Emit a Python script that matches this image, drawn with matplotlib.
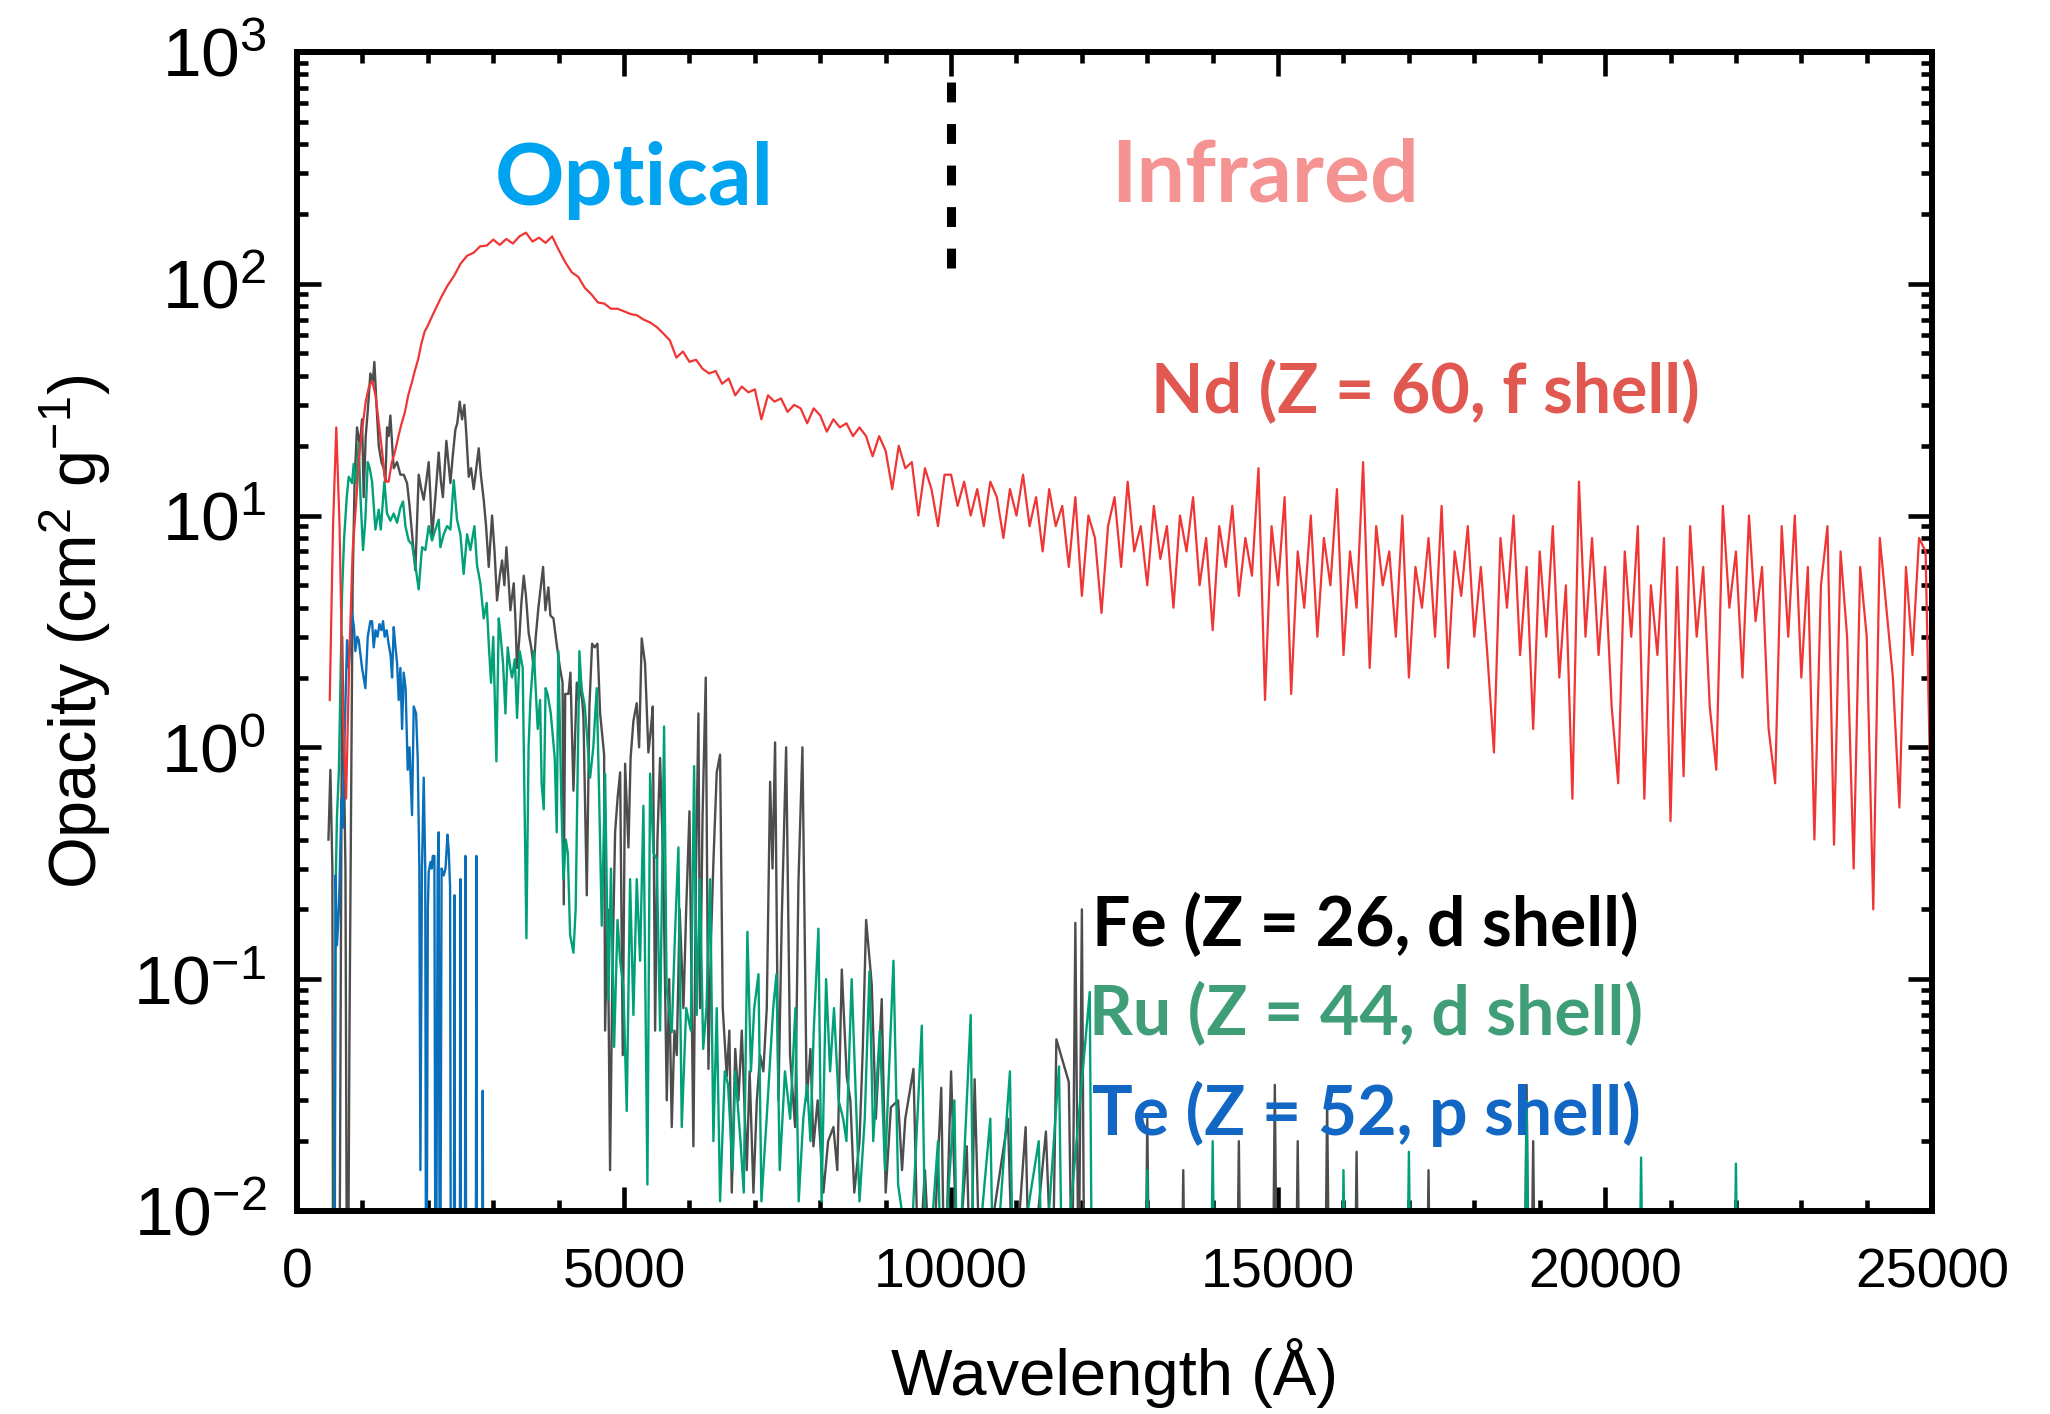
import numpy as np
import matplotlib
matplotlib.use('Agg')
import matplotlib.pyplot as plt
from matplotlib.ticker import MultipleLocator, LogLocator

plt.rcParams['font.family'] = ['Liberation Sans', 'DejaVu Sans']
plt.rcParams['mathtext.fontset'] = 'custom'
plt.rcParams['mathtext.rm'] = 'Liberation Sans'
plt.rcParams['mathtext.it'] = 'Liberation Sans:italic'
plt.rcParams['mathtext.bf'] = 'Liberation Sans:bold'
plt.rcParams['mathtext.default'] = 'regular'

# ---- Nd (Z = 60) : values ----
nd_wave = np.concatenate([np.arange(500, 2000, 50), np.arange(2000, 25001, 100)])
nd_opac = [
    1.6, 9, 24, 9, 1.5, 0.6, 2.5, 7, 11, 18,
    24, 31, 36, 38, 33, 25, 19, 14, 14, 17,
    19, 22, 25, 28, 33, 37, 42, 47, 55, 62,
    # 2000 - 4900
    66, 76, 87, 98, 108, 122, 132, 136, 145, 146,
    155, 147, 156, 149, 160, 166, 152, 158, 150, 160,
    140, 124, 112, 107, 96, 90, 83, 82, 78, 78,
    # 5000 - 9900
    76, 74, 73, 70, 68, 65, 61, 57, 48, 51,
    46, 47, 43, 41, 42, 37, 39, 33, 36, 34,
    35, 26, 33, 31, 32, 28, 30, 29, 25, 29,
    27, 23, 26, 24, 25, 22, 24, 22, 18, 22,
    19, 13, 20, 16, 17, 10, 16, 13, 9, 15,
    # 10000 - 25000
    15, 11, 14, 10, 13, 9, 14, 12, 8, 13,
    10, 15, 9, 12, 7, 13, 9, 11, 6, 12,
    4.5, 10, 8, 3.8, 9, 12, 6, 14, 7, 9,
    5, 11, 6.5, 9, 4, 10, 7, 12, 5, 8,
    3.2, 9, 6, 11, 4.5, 8, 5.5, 16, 1.6, 9,
    5, 12, 1.7, 7, 4, 10, 3, 8, 5, 13,
    2.5, 7, 4, 17, 2.2, 9, 5, 7, 3, 10,
    2, 6, 4, 8, 3, 11, 2.2, 7, 4.5, 9,
    3, 6, 2.5, 0.95, 8, 4, 10, 2.5, 6, 1.2,
    7, 3, 9, 2, 5, 0.6, 14, 3, 8, 2.5,
    6, 1.5, 0.7, 7, 3, 9, 0.6, 5, 2.5, 8,
    0.48, 6, 0.75, 9, 3, 6, 1.5, 0.8, 11, 4,
    7, 2, 10, 3.5, 6, 1.2, 0.7, 9, 3, 10,
    2, 6, 0.4, 5, 9, 0.38, 7, 3, 0.3, 6,
    3, 0.2, 8, 4, 2, 0.55, 6, 2.5, 8, 7,
    0.28,
]

# ---- Fe (Z = 26) ----
fe_wave = [
    480, 510, 540, 555, 640, 690, 740, 770, 800, 850, 880, 917, 960, 994, 1019, 1050,
    1080, 1121, 1160, 1182, 1215, 1249, 1290, 1325, 1351, 1376, 1400, 1427, 1455, 1478,
    1529, 1580, 1631, 1682, 1720, 1758, 1809, 1860, 1900, 1937, 1975, 2013, 2040, 2064,
    2115, 2140, 2166, 2200, 2230, 2283, 2315, 2345, 2380, 2421, 2450, 2487, 2523, 2559,
    2590, 2625, 2660, 2701, 2740, 2778, 2810, 2854, 2890, 2931, 2960, 2982, 3020, 3058,
    3100, 3135, 3170, 3201, 3230, 3262, 3290, 3313, 3340, 3364, 3400, 3430, 3466, 3500,
    3542, 3580, 3619, 3650, 3690, 3730, 3762, 3797, 3843, 3874, 3920, 3976, 4020, 4060,
    4078, 4100, 4150, 4180, 4226, 4277, 4307, 4340, 4379, 4430, 4470, 4511, 4550, 4593,
    4634, 4695, 4710, 4750, 4786, 4820, 4863, 4900, 4940, 4980, 5016, 5067, 5100, 5143,
    5194, 5230, 5270, 5321, 5372, 5410, 5439, 5475, 5510, 5551, 5600, 5653, 5690, 5729,
    5770, 5806, 5850, 5908, 5950, 6000, 6060, 6100, 6137, 6163, 6200, 6249, 6290, 6330,
    6366, 6417, 6468, 6509, 6570, 6610, 6647, 6700, 6749, 6800, 6876, 6920, 6978, 7030,
    7080, 7130, 7182, 7233, 7270, 7309, 7360, 7411, 7478, 7538, 7615, 7666, 7727, 7793,
    7850, 7895, 7960, 8048, 8120, 8201, 8260, 8329, 8405, 8460, 8520, 8600, 8650, 8701,
    8787, 8850, 8940, 9000, 9080, 9190, 9250, 9300, 9425, 9500, 9600, 9700, 9850, 9900,
    10000, 10100, 10240, 10300, 10360, 10450, 10700, 10870, 10950, 11140, 11200, 11450,
    11550, 11610, 11690, 11800, 11850, 11900, 11950, 12000, 12050,
    12950, 13000, 13050, 13500, 13550, 13600, 14350, 14400, 14450, 14900, 14950, 15000,
    15250, 15300, 15350, 15700, 15750, 15800, 16150, 16200, 16250, 17250, 17300, 17350,
    18750, 18800, 18850, 18900, 18950,
]
fe_opac = [
    0.4, 0.8, 0.3, 0.001, 0.001, 3.0, 0.3, 0.001, 0.05, 5, 14, 24, 20, 26, 12, 22,
    28, 41, 38, 46, 30, 20, 17, 16, 14, 24, 22, 27, 20, 16,
    17, 15, 15, 13.8, 11, 8.4, 5.8, 15, 13, 11.7, 14, 17, 12, 8.1,
    12, 15, 18.7, 14, 12, 21, 17, 13.8, 18, 23.5, 25, 31, 26, 30,
    22, 14.7, 16, 13, 16, 19.5, 15, 11.7, 9, 6, 8, 10, 7, 4.3,
    5.5, 6.4, 5, 7.3, 5.5, 3.9, 4.5, 5.1, 3.5, 2.2, 3, 4.2, 5.5, 4.5,
    3.1, 2.7, 2.2, 3, 4.0, 5.0, 6, 3.9, 4.9, 3.7, 3.6, 2.7, 2.2, 1.9,
    0.21, 1.7, 1.7, 2.1, 0.65, 1.9, 1.6, 1.9, 1.35, 0.23, 1.5, 2.8, 2.7, 2.8,
    1.4, 0.93, 0.06, 0.2, 0.015, 0.1, 0.43, 0.6, 0.78, 0.047, 0.85, 0.37, 0.9, 1.3,
    1.55, 1.0, 2.95, 2.3, 0.95, 1.2, 1.5, 0.06, 0.4, 0.9, 0.3, 0.03, 0.1, 0.023,
    0.06, 0.047, 0.2, 0.075, 0.2, 0.53, 0.019, 0.3, 1.4, 0.075, 0.5, 2.0, 0.041, 0.15,
    0.32, 0.78, 0.93, 0.075, 0.038, 0.06, 0.012, 0.05, 0.03, 0.06, 0.015, 0.04, 0.012, 0.03,
    0.047, 0.04, 0.075, 0.71, 0.3, 1.05, 0.03, 0.18, 1.0, 0.047, 0.023, 0.26, 1.0, 0.03,
    0.05, 0.019, 0.03, 0.012, 0.02, 0.023, 0.015, 0.11, 0.038, 0.03, 0.012, 0.02, 0.05, 0.18,
    0.095, 0.025, 0.082, 0.012, 0.028, 0.03, 0.015, 0.025, 0.041, 0.005, 0.015, 0.004, 0.034, 0.004,
    0.04, 0.005, 0.019, 0.004, 0.037, 0.004, 0.012, 0.025, 0.004, 0.023, 0.004, 0.022,
    0.004, 0.055, 0.046, 0.036, 0.004, 0.175, 0.004, 0.2, 0.001,
    0.001, 0.025, 0.001, 0.001, 0.015, 0.001, 0.001, 0.02, 0.001, 0.001, 0.035, 0.001,
    0.001, 0.02, 0.001, 0.001, 0.03, 0.001, 0.001, 0.018, 0.001, 0.001, 0.015, 0.001,
    0.001, 0.035, 0.001, 0.02, 0.001,
]

# ---- Ru (Z = 44) ----
ru_wave = [
    560, 590, 610, 640, 688, 720, 760, 790, 841, 866, 900, 943, 970, 1009, 1045, 1081,
    1111, 1147, 1198, 1249, 1280, 1335, 1376, 1427, 1478, 1529, 1580, 1621, 1657, 1707,
    1758, 1809, 1860, 1911, 1962, 2013, 2064, 2115, 2166, 2192, 2243, 2294, 2345, 2396,
    2446, 2497, 2548, 2600, 2650, 2712, 2752, 2803, 2854, 2900, 2931, 2966, 3000, 3048,
    3084, 3109, 3150, 3186, 3221, 3260, 3287, 3330, 3364, 3405, 3450, 3507, 3540, 3568,
    3620, 3680, 3716, 3740, 3772, 3800, 3830, 3880, 3940, 3971, 3996, 4040, 4073, 4110,
    4140, 4175, 4226, 4260, 4317, 4350, 4400, 4481, 4530, 4582, 4620, 4659, 4710, 4761,
    4800, 4848, 4900, 4940, 4990, 5041, 5092, 5143, 5194, 5245, 5296, 5357, 5398, 5450,
    5500, 5551, 5612, 5650, 5729, 5780, 5831, 5882, 5950, 6020, 6071, 6110, 6160, 6210,
    6260, 6316, 6366, 6417, 6468, 6540, 6590, 6660, 6700, 6780, 6830, 6886, 6940, 6990,
    7055, 7100, 7180, 7280, 7330, 7380, 7460, 7540, 7620, 7670, 7740, 7800, 7850, 7900,
    7972, 8020, 8089, 8150, 8210, 8280, 8350, 8400, 8480, 8530, 8600, 8680, 8752, 8810,
    8910, 8990, 9119, 9190, 9270, 9350, 9552, 9620, 9800, 9850, 10050, 10100, 10300, 10350,
    10600, 10650, 10900, 10950, 11340, 11400, 11650, 11700, 12120, 12170,
    12950, 13000, 13050, 13950, 14000, 14050, 15950, 16000, 16050, 16950, 17000, 17050,
    18750, 18800, 18850, 20500, 20550, 20600, 21950, 22000, 22050,
]
ru_opac = [
    0.001, 0.25, 0.5, 0.8, 4.6, 8, 12, 14.7, 13.8, 16.7, 13.8, 20.5, 12, 7.1, 9.6, 17,
    16, 14, 8.7, 10.6, 8.7, 14, 10.2, 9.5, 10.2, 9.3, 10.8, 11.5, 9, 7.8,
    7.5, 6.1, 4.8, 7.3, 7.1, 9, 7.8, 8.7, 9.6, 7.3, 8.3, 9, 8.7, 14.2,
    9.6, 8.3, 5.6, 8.3, 7.1, 9, 6.1, 5.1, 3.6, 4.2, 2.8, 1.9, 3.0, 0.87,
    3.6, 3.1, 2.3, 1.4, 2.7, 2.2, 2.0, 2.4, 1.34, 2.6, 2.2, 0.15, 1.0, 1.6,
    2.6, 1.2, 1.6, 0.7, 0.54, 1.8, 1.7, 1.4, 0.9, 0.43, 2.6, 0.6, 0.27, 0.4,
    0.35, 0.155, 0.13, 0.2, 2.6, 1.8, 1.5, 0.74, 1.0, 1.8, 0.6, 0.17, 0.77, 0.081,
    0.3, 0.051, 0.18, 0.12, 0.092, 0.027, 0.27, 0.07, 0.27, 0.12, 0.56, 0.013, 0.77, 0.35,
    0.33, 0.06, 1.23, 0.092, 0.059, 0.16, 0.37, 0.023, 0.075, 0.06, 0.83, 0.07, 0.27, 0.05,
    0.075, 0.27, 0.02, 0.075, 0.011, 0.04, 0.035, 0.015, 0.04, 0.02, 0.012, 0.16, 0.04, 0.075,
    0.105, 0.011, 0.025, 0.075, 0.105, 0.015, 0.04, 0.025, 0.075, 0.011, 0.025, 0.035, 0.02, 0.06,
    0.165, 0.011, 0.1, 0.04, 0.075, 0.03, 0.025, 0.02, 0.1, 0.04, 0.011, 0.025, 0.108, 0.02,
    0.06, 0.015, 0.12, 0.013, 0.009, 0.004, 0.063, 0.004, 0.02, 0.004, 0.03, 0.004, 0.07, 0.004,
    0.025, 0.004, 0.04, 0.004, 0.02, 0.004, 0.042, 0.004, 0.088, 0.001,
    0.001, 0.015, 0.001, 0.001, 0.02, 0.001, 0.001, 0.015, 0.001, 0.001, 0.018, 0.001,
    0.001, 0.03, 0.001, 0.001, 0.017, 0.001, 0.001, 0.016, 0.001,
]

# ---- Te (Z = 52) ----
te_wave = [
    570, 590, 610, 640, 680, 700, 730, 765, 790, 820, 841, 870, 892, 920, 943, 970,
    994, 1045, 1081, 1121, 1147, 1172, 1200, 1230, 1260, 1290, 1315, 1340, 1370, 1400,
    1430, 1453, 1478, 1500, 1530, 1555, 1580, 1606, 1630, 1660, 1692, 1720, 1758, 1784,
    1820, 1845, 1870, 1886, 1910, 1937, 1960, 1975, 2000, 2013, 2040, 2060, 2075, 2100,
    2120, 2150, 2166, 2185, 2210, 2243, 2270, 2300, 2319, 2340, 2355, 2395, 2406, 2420,
    2485, 2497, 2510, 2565, 2574, 2590, 2730, 2742, 2755, 2830, 2839, 2850,
]
te_opac = [
    0.001, 0.28, 0.14, 0.2, 0.6, 0.45, 1.2, 2.9, 2.2, 3.0, 3.8, 3.3, 2.6, 3.0, 2.9, 2.5,
    2.2, 1.8, 3.0, 3.5, 3.5, 2.7, 3.2, 3.0, 3.4, 3.2, 3.5, 3.0, 3.2, 2.8,
    2.5, 2.0, 3.3, 2.8, 2.3, 1.6, 2.2, 1.2, 2.1, 1.8, 0.8, 1.0, 0.51, 1.5,
    1.4, 0.9, 0.3, 0.015, 0.3, 0.74, 0.3, 0.001, 0.2, 0.29, 0.32, 0.3, 0.34, 0.34,
    0.001, 0.3, 0.43, 0.001, 0.3, 0.28, 0.3, 0.42, 0.36, 0.25, 0.001, 0.001, 0.23, 0.001,
    0.001, 0.27, 0.001, 0.001, 0.34, 0.001, 0.001, 0.34, 0.001, 0.001, 0.033, 0.001,
]

fig = plt.figure(figsize=(20.5, 14.14), dpi=100)
ax = fig.add_axes([0.1449, 0.1436, 0.7976, 0.8197])

ax.plot(fe_wave, fe_opac, color='#4d4d4d', lw=1.7)
ax.plot(ru_wave, ru_opac, color='#00a078', lw=1.7)
ax.plot(te_wave, te_opac, color='#0a6fba', lw=1.7)
ax.plot(nd_wave, nd_opac, color='#f03535', lw=1.6)

ax.plot([10000, 10000], [117, 790], color='black', lw=6.5,
        linestyle=(0, (2.2, 2.4)), dash_capstyle='butt')

ax.set_yscale('log')
ax.set_xlim(0, 25000)
ax.set_ylim(1e-2, 1e3)

ax.xaxis.set_major_locator(MultipleLocator(5000))
ax.xaxis.set_minor_locator(MultipleLocator(1000))
ax.yaxis.set_major_locator(LogLocator(base=10, numticks=10))
ax.yaxis.set_minor_locator(LogLocator(base=10, subs=np.arange(2, 10), numticks=20))

for s in ax.spines.values():
    s.set_linewidth(4.3)
ax.tick_params(which='both', direction='in', top=True, right=True, width=3.3)
ax.tick_params(which='major', length=17)
ax.tick_params(axis='x', which='major', pad=26, labelsize=40)
ax.tick_params(axis='y', which='major', pad=22, labelsize=50)
ax.tick_params(which='minor', length=8)

ax.set_xlabel('Wavelength (Å)', fontsize=47, labelpad=28)
ax.set_ylabel('Opacity (cm$^2$ g$^{-1}$)', fontsize=48, labelpad=15)

lab = dict(fontfamily='Lato', fontweight='bold', ha='center', va='center')
ax.text(5156, 280, 'Optical', color='#00a3f0', fontsize=62, **lab)
ax.text(14808, 290, 'Infrared', color='#f59393', fontsize=62, **lab)
ax.text(17246, 34, 'Nd (Z = 60, f shell)', color='#e0584f', fontsize=49, **lab)
ax.text(16327, 0.17, 'Fe (Z = 26, d shell)', color='black', fontsize=49, **lab)
ax.text(16347, 0.0703, 'Ru (Z = 44, d shell)', color='#3f9e78', fontsize=49, **lab)
ax.text(16347, 0.0262, 'Te (Z = 52, p shell)', color='#1266c4', fontsize=49, **lab)

fig.savefig('out.png', dpi=100)
